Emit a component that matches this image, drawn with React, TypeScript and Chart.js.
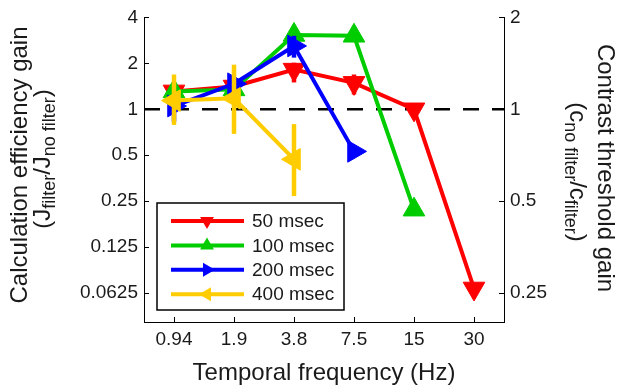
import React, { useEffect, useRef } from 'react';
import { Chart, registerables } from 'chart.js';

Chart.register(...registerables);

// ---- data ----
const freqLabels = ['0.94', '1.9', '3.8', '7.5', '15', '30'];
const seriesNames = ['50 msec', '100 msec', '200 msec', '400 msec'];
const seriesColors = ['#ff0000', '#00cc00', '#0000ff', '#ffcc00'];
const seriesRotation = [180, 0, 90, 270];

const gain50 = [1.31, 1.41, 1.82, 1.49, 1.0, 0.067];
const lo50 = [1.2, 1.32, 1.5, 1.25, 0.94, 0.062];
const hi50 = [1.43, 1.5, 2.02, 1.69, 1.05, 0.072];

const gain100 = [1.31, 1.35, 3.07, 3.03, 0.22];
const lo100 = [1.25, 1.28, 2.85, 2.9, 0.205];
const hi100 = [1.38, 1.42, 3.3, 3.2, 0.235];

const gain200 = [1.05, 1.47, 2.6, 0.53];
const lo200 = [0.83, 1.25, 2.18, 0.49];
const hi200 = [1.12, 1.63, 3.03, 0.57];

const gain400 = [1.14, 1.18, 0.47];
const lo400 = [0.79, 0.69, 0.27];
const hi400 = [1.69, 1.96, 0.8];

const leftTicks = [0.0625, 0.125, 0.25, 0.5, 1, 2, 4];
const leftTickLabels = ['0.0625', '0.125', '0.25', '0.5', '1', '2', '4'];
const rightTicks = [0.25, 0.5, 1, 2];
const rightTickLabels = ['0.25', '0.5', '1', '2'];
const yMinGain = 0.0404;
const yMaxGain = 4;
const referenceGain = 1;

const gains = [gain50, gain100, gain200, gain400];
const lows = [lo50, lo100, lo200, lo400];
const highs = [hi50, hi100, hi200, hi400];

const FONT = "'Liberation Sans', Arial, Helvetica, sans-serif";
const TEXT = '#1a1a1a';

type Seg = { t: string; sub?: boolean };

function drawRich(ctx: CanvasRenderingContext2D, segs: Seg[], mainSize: number, subSize: number, subShift: number) {
  let total = 0;
  const widths = segs.map((s) => {
    ctx.font = `${s.sub ? subSize : mainSize}px ${FONT}`;
    const w = ctx.measureText(s.t).width;
    total += w;
    return w;
  });
  let x = -total / 2;
  ctx.textAlign = 'left';
  ctx.textBaseline = 'alphabetic';
  segs.forEach((s, i) => {
    ctx.font = `${s.sub ? subSize : mainSize}px ${FONT}`;
    ctx.fillText(s.t, x, s.sub ? subShift : 0);
    x += widths[i];
  });
}

const errorBarPlugin = {
  id: 'errorBars',
  beforeDatasetDraw(chart: any, args: any) {
    const k = args.index;
    const meta = args.meta;
    const ys = chart.scales.y;
    const xs = chart.scales.x;
    const ctx = chart.ctx;
    ctx.save();
    ctx.strokeStyle = seriesColors[k];
    ctx.lineWidth = 4.5;
    ctx.lineCap = 'butt';
    lows[k].forEach((lo: number, i: number) => {
      const x = xs.getPixelForValue(i);
      const y1 = ys.getPixelForValue(Math.log2(lo));
      const y2 = ys.getPixelForValue(Math.log2(highs[k][i]));
      ctx.beginPath();
      ctx.moveTo(x, y1);
      ctx.lineTo(x, y2);
      ctx.stroke();
    });
    ctx.restore();
  },
};

const decorPlugin = {
  id: 'decor',
  beforeDatasetsDraw(chart: any) {
    const { ctx, chartArea, scales } = chart;
    const y = scales.y.getPixelForValue(Math.log2(referenceGain));
    ctx.save();
    ctx.strokeStyle = '#000';
    ctx.lineWidth = 2.5;
    ctx.setLineDash([16, 13]);
    ctx.beginPath();
    ctx.moveTo(chartArea.left, y);
    ctx.lineTo(chartArea.right, y);
    ctx.stroke();
    ctx.setLineDash([]);
    // inward ticks
    ctx.lineWidth = 1;
    const tl = 5;
    leftTicks.forEach((t) => {
      const py = Math.round(scales.y.getPixelForValue(Math.log2(t))) + 0.5;
      ctx.beginPath();
      ctx.moveTo(chartArea.left, py);
      ctx.lineTo(chartArea.left + tl, py);
      ctx.stroke();
    });
    rightTicks.forEach((t) => {
      const py = Math.round(scales.y2.getPixelForValue(Math.log2(t))) + 0.5;
      ctx.beginPath();
      ctx.moveTo(chartArea.right, py);
      ctx.lineTo(chartArea.right - tl, py);
      ctx.stroke();
    });
    freqLabels.forEach((_, i) => {
      const px = Math.round(scales.x.getPixelForValue(i)) + 0.5;
      ctx.beginPath();
      ctx.moveTo(px, chartArea.bottom);
      ctx.lineTo(px, chartArea.bottom - tl);
      ctx.stroke();
    });
    ctx.restore();
  },
  afterDatasetsDraw(chart: any) {
    const ctx = chart.ctx;
    ctx.save();
    // legend box
    const bx = 157, by = 203, bw = 187, bh = 107;
    ctx.fillStyle = '#fff';
    ctx.fillRect(bx, by, bw, bh);
    ctx.strokeStyle = '#000';
    ctx.lineWidth = 1.5;
    ctx.strokeRect(bx, by, bw, bh);
    seriesNames.forEach((name, k) => {
      const ry = 221 + k * 24.4;
      ctx.strokeStyle = seriesColors[k];
      ctx.lineWidth = 4;
      ctx.beginPath();
      ctx.moveTo(171, ry);
      ctx.lineTo(244, ry);
      ctx.stroke();
      ctx.fillStyle = seriesColors[k];
      ctx.save();
      ctx.translate(207, ry);
      ctx.rotate((seriesRotation[k] * Math.PI) / 180);
      const r = 8;
      ctx.beginPath();
      for (let j = 0; j < 3; j++) {
        const a = (j * 2 * Math.PI) / 3;
        const px = Math.sin(a) * r;
        const py = -Math.cos(a) * r;
        if (j === 0) ctx.moveTo(px, py);
        else ctx.lineTo(px, py);
      }
      ctx.closePath();
      ctx.fill();
      ctx.restore();
      ctx.fillStyle = TEXT;
      ctx.font = `19px ${FONT}`;
      ctx.textAlign = 'left';
      ctx.textBaseline = 'middle';
      ctx.fillText(name, 252, ry + 1);
    });
    ctx.restore();
  },
  afterDraw(chart: any) {
    const ctx = chart.ctx;
    ctx.save();
    ctx.fillStyle = TEXT;
    // x title
    ctx.font = `24px ${FONT}`;
    ctx.textAlign = 'center';
    ctx.textBaseline = 'alphabetic';
    ctx.fillText('Temporal frequency (Hz)', 324, 380);
    // left titles
    ctx.save();
    ctx.translate(27, 165);
    ctx.rotate(-Math.PI / 2);
    ctx.textAlign = 'center';
    ctx.fillText('Calculation efficiency gain', 0, 0);
    ctx.restore();
    ctx.save();
    ctx.translate(50, 159);
    ctx.rotate(-Math.PI / 2);
    drawRich(ctx, [
      { t: '(' }, { t: 'J' }, { t: 'filter', sub: true }, { t: '/' }, { t: 'J' }, { t: 'no filter', sub: true }, { t: ')' },
    ], 24, 18, 5);
    ctx.restore();
    // right titles
    ctx.save();
    ctx.translate(598, 168);
    ctx.rotate(Math.PI / 2);
    ctx.font = `24px ${FONT}`;
    ctx.textAlign = 'center';
    ctx.fillText('Contrast threshold gain', 0, 0);
    ctx.restore();
    ctx.save();
    ctx.translate(570, 172);
    ctx.rotate(Math.PI / 2);
    drawRich(ctx, [
      { t: '(' }, { t: 'c' }, { t: 'no filter', sub: true }, { t: '/' }, { t: 'c' }, { t: 'filter', sub: true }, { t: ')' },
    ], 24, 18, 5);
    ctx.restore();
    ctx.restore();
  },
};

export default function App() {
  const ref = useRef<HTMLCanvasElement | null>(null);
  useEffect(() => {
    if (!ref.current) return;
    const tickFont = { family: FONT, size: 19 };
    const datasets = gains.map((g, k) => ({
      label: seriesNames[k],
      data: g.map((v, i) => ({ x: i, y: Math.log2(v) })),
      borderColor: seriesColors[k],
      backgroundColor: seriesColors[k],
      pointBackgroundColor: seriesColors[k],
      pointBorderColor: seriesColors[k],
      borderWidth: 4,
      pointStyle: 'triangle',
      pointRotation: seriesRotation[k],
      pointRadius: 12.5,
      pointBorderWidth: 1,
      tension: 0,
      yAxisID: 'y',
      order: 3 - k,
    }));
    const chart = new Chart(ref.current, {
      type: 'line',
      data: { datasets: datasets as any },
      options: {
        animation: false,
        responsive: false,
        maintainAspectRatio: false,
        layout: { padding: { top: 15, left: 0, right: 0, bottom: 0 } },
        plugins: { legend: { display: false }, tooltip: { enabled: false } },
        scales: {
          x: {
            type: 'linear',
            min: -0.5,
            max: freqLabels.length - 0.5,
            grid: { display: false, drawTicks: false },
            border: { display: true, color: '#000', width: 1 },
            ticks: {
              font: tickFont,
              color: TEXT,
              padding: 6,
              maxRotation: 0,
              autoSkip: false,
              callback: (_v: any, i: number) => freqLabels[i],
            },
            afterBuildTicks: (s: any) => {
              s.ticks = freqLabels.map((_, i) => ({ value: i }));
            },
            afterFit: (s: any) => {
              s.height = 66;
            },
          },
          y: {
            type: 'linear',
            position: 'left',
            min: Math.log2(yMinGain),
            max: Math.log2(yMaxGain),
            grid: { display: false, drawTicks: false },
            border: { display: true, color: '#000', width: 1 },
            ticks: {
              font: tickFont,
              color: TEXT,
              padding: 6,
              autoSkip: false,
              callback: (_v: any, i: number) => leftTickLabels[i],
            },
            afterBuildTicks: (s: any) => {
              s.ticks = leftTicks.map((t) => ({ value: Math.log2(t) }));
            },
            afterFit: (s: any) => {
              s.width = 144;
            },
          },
          y2: {
            type: 'linear',
            position: 'right',
            min: Math.log2(yMinGain) / 2,
            max: Math.log2(yMaxGain) / 2,
            grid: { display: false, drawTicks: false },
            border: { display: true, color: '#000', width: 1 },
            ticks: {
              font: tickFont,
              color: TEXT,
              padding: 6,
              autoSkip: false,
              callback: (_v: any, i: number) => rightTickLabels[i],
            },
            afterBuildTicks: (s: any) => {
              s.ticks = rightTicks.map((t) => ({ value: Math.log2(t) }));
            },
            afterFit: (s: any) => {
              s.width = 114;
            },
          },
        },
      } as any,
      plugins: [errorBarPlugin, decorPlugin],
    });
    return () => chart.destroy();
  }, []);
  return (
    <div style={{ position: 'fixed', left: 0, top: 0, width: 618, height: 388, background: '#fff' }}>
      <canvas ref={ref} width={618} height={388} style={{ width: 618, height: 388 }} />
    </div>
  );
}
